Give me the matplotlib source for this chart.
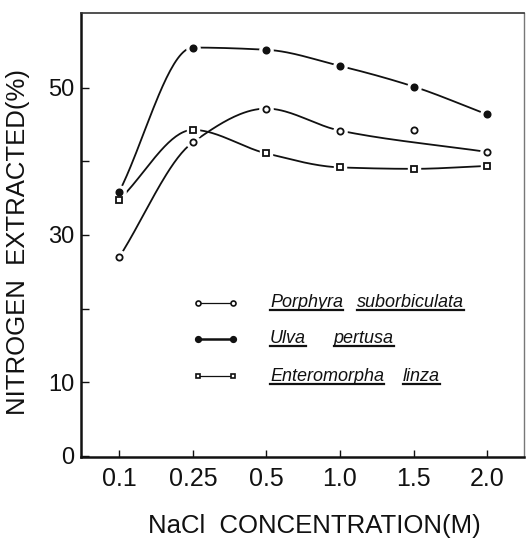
import numpy as np
import matplotlib
matplotlib.use("Agg")
import matplotlib.pyplot as plt
from matplotlib import font_manager
from matplotlib.lines import Line2D

# NaCl concentration (M) on the x axis, nitrogen extracted (%) per alga
conc_labels = ["0.1", "0.25", "0.5", "1.0", "1.5", "2.0"]
porphyra = [27.0, 42.6, 47.2, 44.2, 44.3, 41.3]
ulva = [35.9, 55.5, 55.2, 53.0, 50.2, 46.4]
enteromorpha = [34.8, 44.3, 41.1, 39.2, 39.0, 39.4]

# the smoothed Porphyra curve runs below its 1.5 M point
porphyra_fit = [True, True, True, True, False, True]
ulva_fit = [True] * 6
enteromorpha_fit = [True] * 6

species_words = [["Porphyra", "suborbiculata"], ["Ulva", "pertusa"], ["Enteromorpha", "linza"]]

y_major = [0, 10, 30, 50]
y_minor = [20, 40]


def Pick_Font(names):
    for name in names:
        try:
            font_manager.findfont(name, fallback_to_default=False)
            return name
        except ValueError:
            continue
    return "DejaVu Sans"


SANS = Pick_Font(["Liberation Sans", "Arial", "DejaVu Sans"])
NARROW = Pick_Font(["Liberation Sans Narrow", "Liberation Sans", "DejaVu Sans"])
INK = "#111111"


# shape-preserving cubic (pchip style tangents), no overshoot at the peaks
def Smooth_Curve(x, y, n=40):
    x = np.asarray(x, float)
    y = np.asarray(y, float)
    h = np.diff(x)
    d = np.diff(y) / h
    m = np.zeros_like(y)
    for i in range(1, len(y) - 1):
        if d[i - 1] * d[i] > 0:
            w1 = 2 * h[i] + h[i - 1]
            w2 = h[i] + 2 * h[i - 1]
            m[i] = (w1 + w2) / (w1 / d[i - 1] + w2 / d[i])
    m[0] = d[0]
    m[-1] = d[-1]
    xs, ys = [], []
    t = np.linspace(0, 1, n)
    h00 = 2 * t**3 - 3 * t**2 + 1
    h10 = t**3 - 2 * t**2 + t
    h01 = -2 * t**3 + 3 * t**2
    h11 = t**3 - t**2
    for i in range(len(x) - 1):
        xs.append(x[i] + t * h[i])
        ys.append(h00 * y[i] + h10 * h[i] * m[i] + h01 * y[i + 1] + h11 * h[i] * m[i + 1])
    return np.concatenate(xs), np.concatenate(ys)


def Plot_Series(ax, values, fit, marker, face, size, lw):
    idx = np.arange(len(values))
    keep = np.array(fit)
    cx, cy = Smooth_Curve(idx[keep], np.array(values)[keep])
    ax.plot(cx, cy, color=INK, lw=lw, zorder=2, solid_capstyle="round")
    # white halo so the curve stops short of each point
    ax.plot(idx, values, ls="none", marker=marker, ms=size + 5, mfc="white", mec="white", zorder=3)
    ax.plot(idx, values, ls="none", marker=marker, ms=size, mfc=face, mec=INK, mew=1.3, zorder=4)


def main():
    fig = plt.figure(figsize=(5.26, 5.38), dpi=100)
    ax = fig.add_axes([0.154, 0.1506, 0.842, 0.8252])

    Plot_Series(ax, porphyra, porphyra_fit, "o", "white", 4.5, 1.3)
    Plot_Series(ax, ulva, ulva_fit, "o", INK, 4.5, 1.3)
    Plot_Series(ax, enteromorpha, enteromorpha_fit, "s", "white", 4.2, 1.3)

    ax.set_xlim(-0.52, 5.5)
    ax.set_ylim(-0.2, 60.2)

    ax.set_xticks(np.arange(len(conc_labels)))
    ax.set_xticklabels(conc_labels, fontfamily=NARROW, fontsize=18)
    ax.set_yticks(y_major)
    ax.set_yticklabels([str(v) for v in y_major], fontfamily=SANS, fontsize=17)
    ax.set_yticks(y_minor, minor=True)
    ax.tick_params(axis="x", direction="in", length=5, width=1, pad=7, colors=INK)
    ax.tick_params(axis="y", which="both", direction="in", length=6, width=1, pad=5, colors=INK)

    for side in ["left", "bottom"]:
        ax.spines[side].set_linewidth(1.8)
        ax.spines[side].set_color(INK)
    ax.spines["top"].set_linewidth(1.2)
    ax.spines["top"].set_color("#333333")
    ax.spines["right"].set_linewidth(1.0)
    ax.spines["right"].set_color("#777777")

    ax.set_ylabel("NITROGEN  EXTRACTED(%)", fontfamily=SANS, fontsize=18.5, color=INK)
    ax.yaxis.set_label_coords(-0.115, 0.485)
    ax.set_xlabel("NaCl  CONCENTRATION(M)", fontfamily=SANS, fontsize=18.5, color=INK, va="top")
    ax.xaxis.set_label_coords(0.526, -0.128)

    # key: marker pair on the left, underlined italic species names
    rows_y = [0.347, 0.266, 0.182]
    handles = [("o", "white", 3.6, 0.9), ("o", INK, 4.0, 1.8), ("s", "white", 3.4, 0.9)]
    word_x = [[0.427, 0.623], [0.427, 0.571], [0.427, 0.727]]
    words = []
    for ry, (mk, face, size, lw), wx, names in zip(rows_y, handles, word_x, species_words):
        ax.plot([0.264, 0.343], [ry, ry], transform=ax.transAxes, color=INK, lw=lw,
                marker=mk, ms=size, mfc=face, mec=INK, mew=1.2)
        for x0, name in zip(wx, names):
            words.append(ax.text(x0, ry, name, transform=ax.transAxes, fontfamily=SANS,
                                 fontstyle="italic", fontsize=13, color=INK,
                                 ha="left", va="center"))

    fig.canvas.draw()
    renderer = fig.canvas.get_renderer()
    to_fig = fig.transFigure.inverted()
    for t in words:
        bb = t.get_window_extent(renderer).transformed(to_fig)
        fig.add_artist(Line2D([bb.x0, bb.x1], [bb.y0 + 0.002, bb.y0 + 0.002],
                              transform=fig.transFigure, color=INK, lw=1.6))

    fig.savefig("out.png", dpi=100)
    plt.close(fig)


if __name__ == "__main__":
    main()
